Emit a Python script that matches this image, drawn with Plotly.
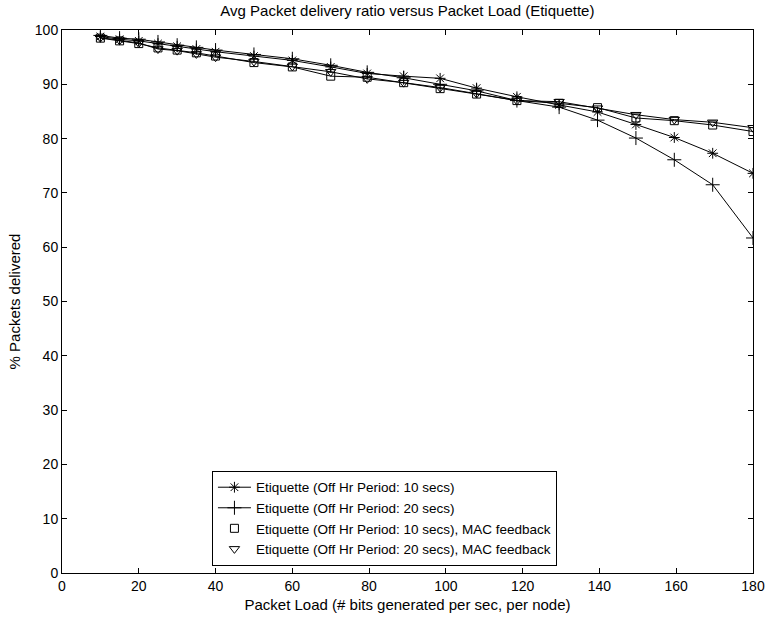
import plotly.graph_objects as go

loads = [10, 15, 20, 25, 30, 35, 40, 50, 60, 70, 79.5, 89, 98.5, 108, 118.5, 129.5, 139.5, 149.5, 159.5, 169.5, 180]

etq_10 = [98.8, 98.3, 98.0, 97.5, 97.0, 96.5, 96.0, 95.2, 94.4, 93.2, 92.0, 91.5, 91.1, 89.3, 87.7, 86.2, 84.9, 82.6, 80.2, 77.3, 73.6]
etq_20 = [99.0, 98.5, 98.3, 97.8, 97.2, 96.8, 96.3, 95.5, 94.7, 93.5, 92.2, 91.2, 90.0, 88.8, 87.0, 85.8, 83.4, 80.1, 76.1, 71.5, 61.7]
etq_10_mac = [98.5, 98.0, 97.5, 96.7, 96.3, 95.8, 95.2, 94.0, 93.2, 91.5, 91.3, 90.3, 89.2, 88.2, 87.0, 86.5, 85.7, 83.8, 83.3, 82.5, 81.3]
etq_20_mac = [98.6, 98.1, 97.6, 96.5, 96.2, 95.6, 95.0, 94.2, 93.3, 92.3, 91.0, 90.3, 89.4, 88.3, 87.0, 86.8, 85.6, 84.4, 83.5, 83.0, 82.0]

names = [
    "Etiquette (Off Hr Period: 10 secs)",
    "Etiquette (Off Hr Period: 20 secs)",
    "Etiquette (Off Hr Period: 10 secs), MAC feedback",
    "Etiquette (Off Hr Period: 20 secs), MAC feedback",
]

x_ticks = list(range(0, 181, 20))
y_ticks = list(range(0, 101, 10))

FONT = "Liberation Sans, Arial, sans-serif"
fig = go.Figure()

fig.add_trace(go.Scatter(x=loads, y=etq_10, mode="lines+markers", name=names[0],
                         line=dict(color="black", width=1),
                         marker=dict(symbol="asterisk-open", size=9, color="black", line=dict(width=1, color="black"))))
fig.add_trace(go.Scatter(x=loads, y=etq_20, mode="lines+markers", name=names[1],
                         line=dict(color="black", width=1),
                         marker=dict(symbol="cross-thin-open", size=10, color="black", line=dict(width=1, color="black"))))
fig.add_trace(go.Scatter(x=loads, y=etq_10_mac, mode="lines", showlegend=False,
                         line=dict(color="black", width=1)))
fig.add_trace(go.Scatter(x=loads, y=etq_10_mac, mode="markers", name=names[2],
                         marker=dict(symbol="square-open", size=8, color="black", line=dict(width=1, color="black"))))
fig.add_trace(go.Scatter(x=loads, y=etq_20_mac, mode="lines", showlegend=False,
                         line=dict(color="black", width=1)))
fig.add_trace(go.Scatter(x=loads, y=etq_20_mac, mode="markers", name=names[3],
                         marker=dict(symbol="triangle-down-open", size=9, color="black", line=dict(width=1, color="black"))))

fig.update_layout(
    width=765, height=617,
    margin=dict(l=62, r=12, t=30, b=44),
    paper_bgcolor="white", plot_bgcolor="white",
    font=dict(family=FONT, size=14, color="black"),
    title=dict(text="Avg Packet delivery ratio versus Packet Load (Etiquette)",
               x=0.5325, xanchor="center", y=0.982, yanchor="middle",
               font=dict(family=FONT, size=15, color="black")),
    legend=dict(x=0.217, y=0.013, xanchor="left", yanchor="bottom",
                bgcolor="white", bordercolor="black", borderwidth=1,
                font=dict(family=FONT, size=13.5, color="black"),
                tracegroupgap=0, itemwidth=33),
    showlegend=True,
)
fig.update_xaxes(range=[0, 180], tickvals=x_ticks, ticks="inside", ticklen=5,
                 tickcolor="black", showline=True, linecolor="black", linewidth=1,
                 mirror="ticks", showgrid=False, zeroline=False, automargin=False,
                 tickfont=dict(family=FONT, size=14),
                 title=dict(text="Packet Load (# bits generated per sec, per node)", standoff=6,
                            font=dict(family=FONT, size=15)))
fig.update_yaxes(range=[0, 100], tickvals=y_ticks, ticks="inside", ticklen=5,
                 tickcolor="black", showline=True, linecolor="black", linewidth=1,
                 mirror="ticks", showgrid=False, zeroline=False, automargin=False,
                 tickfont=dict(family=FONT, size=14),
                 title=dict(text="% Packets delivered", standoff=10,
                            font=dict(family=FONT, size=15)))

fig.write_html("out.html")
